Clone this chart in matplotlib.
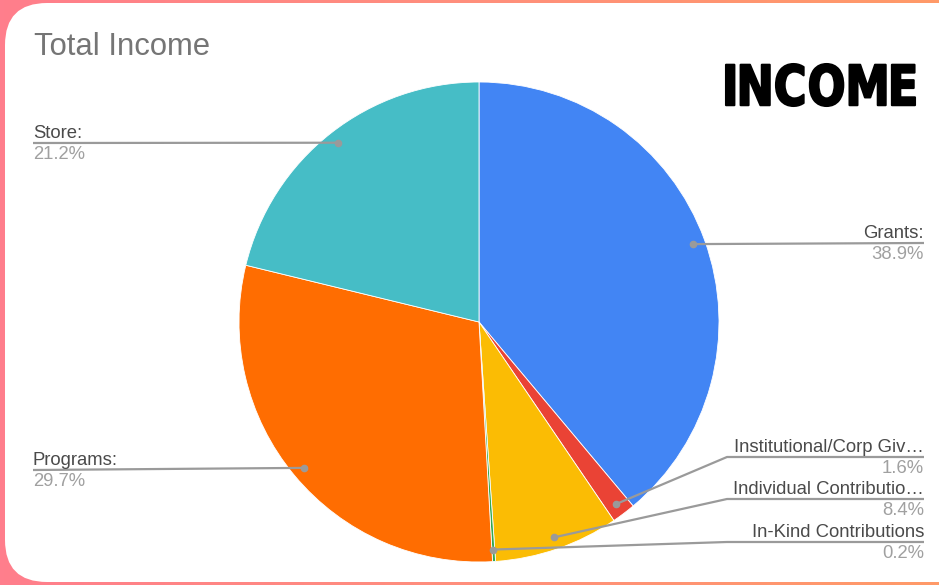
import numpy as np
import matplotlib.pyplot as plt
from matplotlib.patches import FancyBboxPatch, PathPatch
from matplotlib.colors import LinearSegmentedColormap
from matplotlib.textpath import TextPath
from matplotlib.font_manager import FontProperties
from matplotlib.transforms import Affine2D
from matplotlib.path import Path

# slice data (clockwise from 12 o'clock)
labels = ["Grants:", "Institutional/Corp Giv…", "Individual Contributio…",
          "In-Kind Contributions", "Programs:", "Store:"]
values = [38.9, 1.6, 8.4, 0.2, 29.7, 21.2]
colors = ["#4285F4", "#EA4335", "#FBBC04", "#34A853", "#FF6D01", "#46BDC6"]

W, H = 939, 585
fig = plt.figure(figsize=(W / 100, H / 100), dpi=100)
ax = fig.add_axes([0, 0, 1, 1])

# pink -> orange background
grad = np.linspace(0, 1, 256).reshape(1, -1)
cmap = LinearSegmentedColormap.from_list("bg", ["#FF7E8C", "#FF8F7C", "#FF9A68"])
ax.imshow(grad, extent=[0, W, 0, H], cmap=cmap, aspect="auto", zorder=0)

card = FancyBboxPatch((5, 3), 990, 579, boxstyle="round,pad=0,rounding_size=42",
                      fc="white", ec="none", zorder=1)
ax.add_patch(card)

cx, cy, R = 479, 263, 240
wedges, _ = ax.pie(values, colors=colors, startangle=90, counterclock=False,
                   center=(cx, cy), radius=R, frame=True,
                   wedgeprops=dict(linewidth=0.6, edgecolor="white"))
for w in wedges:
    w.set_zorder(2)
ax.set_xlim(0, W)
ax.set_ylim(0, H)
ax.set_aspect("equal")
ax.axis("off")

name_c = "#4A4A4A"
pct_c = "#A0A0A0"
line_c = "#9A9A9A"
font = "Liberation Sans"

# label rows: (text x, line y, elbow x or None, align)
rows = [
    (924, 342, None, "right"),
    (924, 128, 727, "right"),
    (924, 86, 727, "right"),
    (924, 43, 727, "right"),
    (33, 115, None, "left"),
    (33, 442, None, "left"),
]

for w, lab, val, (tx, ly, ex, ha) in zip(wedges, labels, values, rows):
    mid = np.deg2rad((w.theta1 + w.theta2) / 2)
    dx = cx + 0.95 * R * np.cos(mid)
    dy = cy + 0.95 * R * np.sin(mid)
    if ex is None:
        xs, ys = [dx, tx], [dy, ly]
    else:
        xs, ys = [dx, ex, tx], [dy, ly, ly]
    ax.plot(xs, ys, color=line_c, lw=1.6, zorder=3, solid_capstyle="butt")
    ax.plot(dx, dy, "o", ms=4.5, color=line_c, zorder=4)
    ax.text(tx, ly + 5, lab, ha=ha, va="baseline", fontsize=13.3,
            color=name_c, family=font, zorder=4)
    ax.text(tx, ly - 3, f"{val}%", ha=ha, va="top", fontsize=13.3,
            color=pct_c, family=font, zorder=4)

ax.text(34, 538, "Total Income", ha="left", va="center", fontsize=22.3,
        color="#757575", family=font, zorder=4)

# big "INCOME" heading: letters spaced out, then fitted to its box
prop = FontProperties(family="DejaVu Sans", weight="bold")
parts, pos = [], 0.0
for ch in "INCOME":
    p = TextPath((0, 0), ch, size=100, prop=prop)
    e = p.get_extents()
    parts.append(Affine2D().translate(pos - e.x0, 0).transform_path(p))
    pos += e.width + 14
tp = Path.make_compound_path(*parts)
bb = tp.get_extents()
x0, x1, y0, y1 = 726, 915, 479, 521
tr = (Affine2D().translate(-bb.x0, -bb.y0)
      .scale((x1 - x0) / bb.width, (y1 - y0) / bb.height)
      .translate(x0, y0))
ax.add_patch(PathPatch(tr.transform_path(tp), fc="black", ec="black",
                       lw=1.5, joinstyle="round", zorder=4))

fig.savefig("out.png", dpi=100)
